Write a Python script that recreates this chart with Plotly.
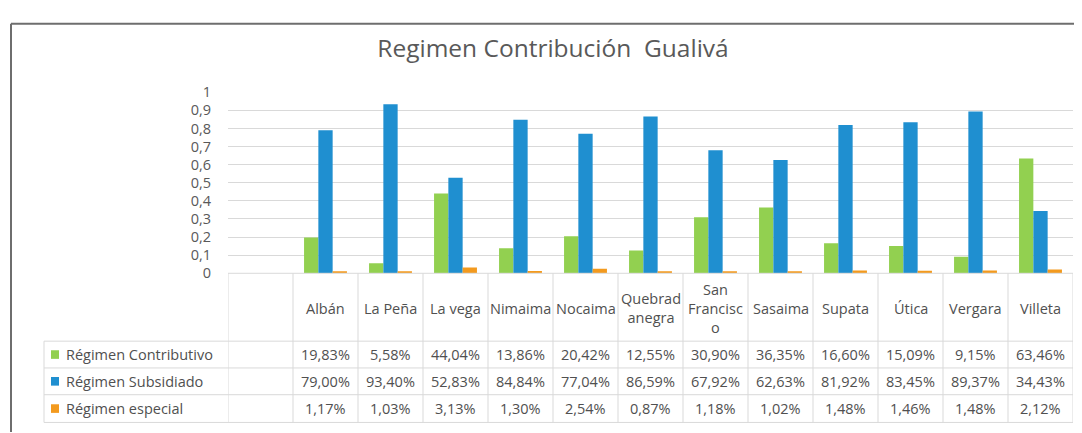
import plotly.graph_objects as go

W, H = 1082, 433

title = "Regimen Contribución  Gualivá"
municipios = ["Albán", "La Peña", "La vega", "Nimaima", "Nocaima", "Quebradanegra",
              "San Francisco", "Sasaima", "Supata", "Útica", "Vergara", "Villeta"]
header_labels = ["Albán", "La Peña", "La vega", "Nimaima", "Nocaima", "Quebrad<br>anegra",
                 "San<br>Francisc<br>o", "Sasaima", "Supata", "Útica", "Vergara", "Villeta"]
series_names = ["Régimen Contributivo", "Régimen Subsidiado", "Régimen especial"]
contributivo = [19.83, 5.58, 44.04, 13.86, 20.42, 12.55, 30.90, 36.35, 16.60, 15.09, 9.15, 63.46]
subsidiado = [79.00, 93.40, 52.83, 84.84, 77.04, 86.59, 67.92, 62.63, 81.92, 83.45, 89.37, 34.43]
especial = [1.17, 1.03, 3.13, 1.30, 2.54, 0.87, 1.18, 1.02, 1.48, 1.46, 1.48, 2.12]
y_ticks = [0, 0.1, 0.2, 0.3, 0.4, 0.5, 0.6, 0.7, 0.8, 0.9, 1]

colors = ["#92D050", "#1F8FD0", "#F39A1E"]
series = [contributivo, subsidiado, especial]

FONT = "Open Sans"
TXT = "#505050"
GRID = "#D9D9D9"
TSIZE = 14.5

# the page body has an 8px margin, so page pixel p maps to figure pixel p - 8
OFF = 8


def px(x):
    return (x - OFF) / W


def py(y):
    return 1 - (y - OFF) / H


# layout geometry (page pixels)
X0, X1 = 228, 1073
Y_ZERO, Y_ONE = 275, 85.7
ROW_LINES = [346, 374, 402, 431]
LABEL_X0 = 44

xs = list(range(1, len(municipios) + 1))

fig = go.Figure()
for name, vals, c in zip(series_names, series, colors):
    fig.add_trace(go.Bar(
        x=xs, y=[v / 100 for v in vals], name=name,
        marker=dict(color=c, line=dict(width=0)),
    ))

shapes = []
annotations = []

# frame
shapes.append(dict(type="line", xref="paper", yref="paper", x0=px(11), x1=1, y0=py(14), y1=py(14),
                   line=dict(color="#6E6E6E", width=2)))
shapes.append(dict(type="line", xref="paper", yref="paper", x0=px(11), x1=px(11), y0=py(14), y1=0,
                   line=dict(color="#6E6E6E", width=2)))

# table horizontal lines
shapes.append(dict(type="line", xref="x", yref="paper", x0=-0.5, x1=len(municipios) + 0.5,
                   y0=py(Y_ZERO), y1=py(Y_ZERO), line=dict(color=GRID, width=1)))
for yl in ROW_LINES:
    shapes.append(dict(type="line", xref="paper", yref="paper", x0=px(LABEL_X0), x1=px(X1),
                       y0=py(yl), y1=py(yl), line=dict(color=GRID, width=1)))
# table vertical lines
for k in range(len(municipios) + 2):
    shapes.append(dict(type="line", xref="x", yref="paper", x0=k - 0.5, x1=k - 0.5,
                       y0=py(Y_ZERO), y1=py(ROW_LINES[-1]), line=dict(color=GRID, width=1)))
shapes.append(dict(type="line", xref="paper", yref="paper", x0=px(LABEL_X0), x1=px(LABEL_X0),
                   y0=py(ROW_LINES[0]), y1=py(ROW_LINES[-1]), line=dict(color=GRID, width=1)))

# header labels
for i, lab in zip(xs, header_labels):
    annotations.append(dict(x=i, xref="x", y=py((Y_ZERO + ROW_LINES[0]) / 2 + 1), yref="paper",
                            text=lab, showarrow=False, xanchor="center", yanchor="middle",
                            font=dict(family=FONT, size=TSIZE, color=TXT)))

# rows
for r, (name, vals, c) in enumerate(zip(series_names, series, colors)):
    yc = (ROW_LINES[r] + ROW_LINES[r + 1]) / 2
    shapes.append(dict(type="rect", xref="paper", yref="paper", x0=px(51), x1=px(59),
                       y0=py(yc + 4.5), y1=py(yc - 4.5), fillcolor=c, line=dict(width=0)))
    annotations.append(dict(x=px(64), xref="paper", y=py(yc), yref="paper", text=name,
                            showarrow=False, xanchor="left", yanchor="middle",
                            font=dict(family=FONT, size=TSIZE, color=TXT)))
    for i, v in zip(xs, vals):
        annotations.append(dict(x=i, xref="x", y=py(yc), yref="paper",
                                text=f"{v:.2f}%".replace(".", ","), showarrow=False,
                                xanchor="center", yanchor="middle",
                                font=dict(family=FONT, size=TSIZE, color=TXT)))

fig.update_layout(
    width=W, height=H, autosize=False,
    margin=dict(l=0, r=0, t=0, b=0),
    paper_bgcolor="white", plot_bgcolor="white",
    separators=",.",
    showlegend=False,
    barmode="group", bargap=0.34, bargroupgap=0,
    title=dict(text=title, x=px(553), xanchor="center", y=py(48), yanchor="middle",
               font=dict(family=FONT, size=24.5, color="#595959")),
    xaxis=dict(domain=[px(X0), px(X1)], range=[-0.5, len(municipios) + 0.5],
               showticklabels=False, showgrid=False, zeroline=False, showline=False, ticks=""),
    yaxis=dict(domain=[py(Y_ZERO), py(Y_ONE)], range=[0, 1], tickvals=y_ticks,
               showgrid=True, gridcolor=GRID, gridwidth=1, zeroline=False, showline=False,
               ticks="", ticklabelstandoff=16,
               tickfont=dict(family=FONT, size=14.5, color="#595959")),
    shapes=shapes, annotations=annotations,
)

fig.write_html("out.html")
